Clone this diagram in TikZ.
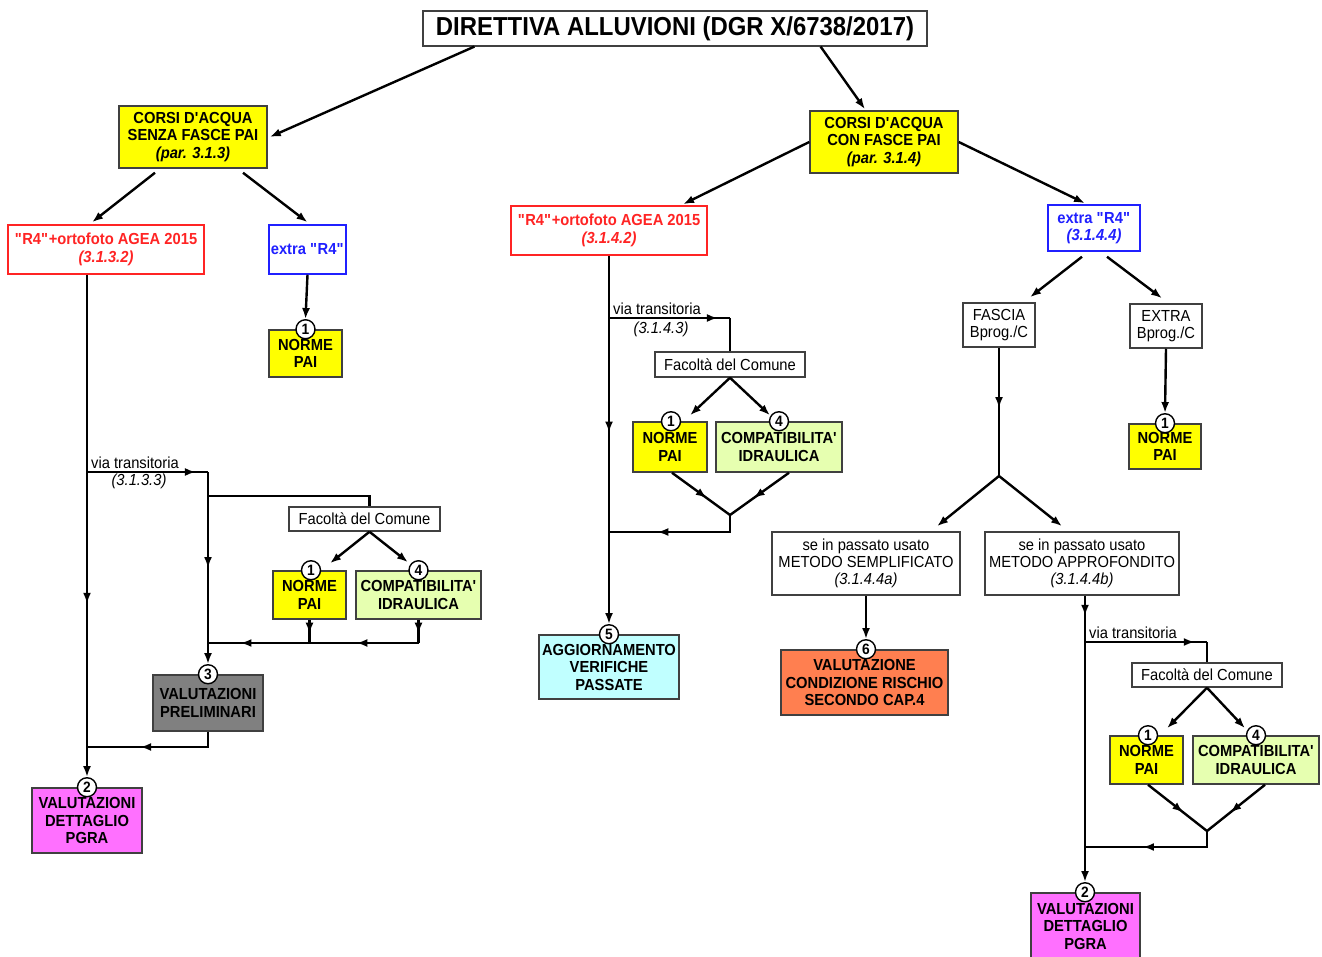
\documentclass[tikz,border=0pt]{standalone}
\usepackage{fontspec}
\setmainfont{Liberation Sans}[FakeStretch=0.92]
\usetikzlibrary{arrows.meta,decorations.markings}

\definecolor{giallo}{HTML}{FFFF00}
\definecolor{rosso}{HTML}{FF2424}
\definecolor{blu}{HTML}{2020FF}
\definecolor{verdino}{HTML}{E6FFB0}
\definecolor{grigio}{HTML}{808080}
\definecolor{fucsia}{HTML}{FF70FF}
\definecolor{azzurro}{HTML}{C0FFFF}
\definecolor{arancio}{HTML}{FF7F50}
\definecolor{bordo}{HTML}{404040}

\newcommand{\rquattro}{\textquotedbl R4\textquotedbl}

\tikzset{
  bianco/.style={draw=bordo, fill=white, line width=1.5pt, align=center, inner sep=2pt,
    font=\fontsize{16}{17}\selectfont},
  colorato/.style={bianco, font=\fontsize{16}{17.5}\selectfont\bfseries},
  numero/.style={circle, draw=black, fill=white, line width=1.4pt, inner sep=0pt,
    minimum size=19pt, font=\fontsize{15}{15}\selectfont\bfseries},
  filo/.style={line width=2.4pt},
  freccia/.style={filo, -{Latex[length=11pt,width=8pt]}},
  midarrow/.style={postaction={decorate}, decoration={markings,
    mark=at position #1 with {\arrow{Latex[length=11pt,width=8pt]}}}},
  testo/.style={font=\fontsize{16}{16}\selectfont, inner sep=1pt},
}

\begin{document}
\begin{tikzpicture}[x=1pt,y=-1pt]
  \path[fill=white, use as bounding box] (0,0) rectangle (1322,957);

  % Titolo
  \node[bianco, line width=1.2pt, minimum width=504, minimum height=35,
    font=\fontsize{26}{26}\selectfont\bfseries] (dir) at (675,28.5)
    {DIRETTIVA ALLUVIONI (DGR X/6738/2017)};

  % Primo livello
  \node[colorato, fill=giallo, minimum width=148, minimum height=62] (senza) at (193,137)
    {CORSI D\textquotesingle ACQUA\\SENZA FASCE PAI\\\textit{(par. 3.1.3)}};
  \node[colorato, fill=giallo, minimum width=148, minimum height=62] (con) at (884,142)
    {CORSI D\textquotesingle ACQUA\\CON FASCE PAI\\\textit{(par. 3.1.4)}};

  % Ramo senza fasce
  \node[colorato, draw=rosso, text=rosso, minimum width=196, minimum height=49] (r4a) at (106,249.5)
    {\rquattro+ortofoto AGEA 2015\\\textit{(3.1.3.2)}};
  \node[colorato, draw=blu, text=blu, minimum width=75, minimum height=49] (extraA) at (307.5,249.5)
    {extra \rquattro};
  \node[colorato, fill=giallo, minimum width=73, minimum height=47] (normeA) at (305.5,353.5)
    {NORME\\PAI};
  \node[bianco, minimum width=151, minimum height=24] (facA) at (364.5,519) {Facoltà del Comune};
  \node[colorato, fill=giallo, minimum width=73, minimum height=48] (normeL) at (309.5,595)
    {NORME\\PAI};
  \node[colorato, fill=verdino, minimum width=125, minimum height=48] (compL) at (418.5,595)
    {COMPATIBILITA\textquotesingle\\IDRAULICA};
  \node[colorato, fill=grigio, minimum width=110, minimum height=56] (prel) at (208,703)
    {VALUTAZIONI\\PRELIMINARI};
  \node[colorato, fill=fucsia, minimum width=110, minimum height=65] (detA) at (87,820.5)
    {VALUTAZIONI\\DETTAGLIO\\PGRA};

  % Ramo con fasce
  \node[colorato, draw=rosso, text=rosso, minimum width=196, minimum height=49] (r4b) at (609,230.5)
    {\rquattro+ortofoto AGEA 2015\\\textit{(3.1.4.2)}};
  \node[bianco, minimum width=150, minimum height=25] (facM) at (730,364.5) {Facoltà del Comune};
  \node[colorato, fill=giallo, minimum width=74, minimum height=50] (normeM) at (670,447)
    {NORME\\PAI};
  \node[colorato, fill=verdino, minimum width=126, minimum height=50] (compM) at (779,447)
    {COMPATIBILITA\textquotesingle\\IDRAULICA};
  \node[colorato, fill=azzurro, minimum width=140, minimum height=64] (agg) at (609,667)
    {AGGIORNAMENTO\\VERIFICHE\\PASSATE};

  \node[colorato, draw=blu, text=blu, minimum width=92, minimum height=46] (extraB) at (1094,228)
    {extra \rquattro\\\textit{(3.1.4.4)}};
  \node[bianco, minimum width=72, minimum height=44] (fasciaC) at (999,325) {FASCIA\\Bprog./C};
  \node[bianco, minimum width=72, minimum height=44] (extraC) at (1166,326) {EXTRA\\Bprog./C};
  \node[colorato, fill=giallo, minimum width=72, minimum height=45] (normeC) at (1165,446.5)
    {NORME\\PAI};
  \node[bianco, minimum width=188, minimum height=63] (semp) at (866,563.5)
    {se in passato usato\\METODO SEMPLIFICATO\\\textit{(3.1.4.4a)}};
  \node[bianco, minimum width=194, minimum height=63] (appr) at (1082,563.5)
    {se in passato usato\\METODO APPROFONDITO\\\textit{(3.1.4.4b)}};
  \node[colorato, fill=arancio, minimum width=167, minimum height=65] (rischio) at (864.5,682.5)
    {VALUTAZIONE\\CONDIZIONE RISCHIO\\SECONDO CAP.4};
  \node[bianco, minimum width=150, minimum height=24] (facR) at (1207,675) {Facoltà del Comune};
  \node[colorato, fill=giallo, minimum width=73, minimum height=48] (normeR) at (1146.5,760)
    {NORME\\PAI};
  \node[colorato, fill=verdino, minimum width=126, minimum height=48] (compR) at (1256,760)
    {COMPATIBILITA\textquotesingle\\IDRAULICA};
  \node[colorato, fill=fucsia, minimum width=109, minimum height=66] (detB) at (1085.5,926)
    {VALUTAZIONI\\DETTAGLIO\\PGRA};

  % Numeri
  \node[numero] (c1a) at (normeA.north) {1};
  \node[numero] (c1L) at ([xshift=1.5pt]normeL.north) {1};
  \node[numero] (c4L) at (compL.north) {4};
  \node[numero] (c3) at (prel.north) {3};
  \node[numero] (c2a) at (detA.north) {2};
  \node[numero] (c1M) at ([xshift=1pt]normeM.north) {1};
  \node[numero] (c4M) at (compM.north) {4};
  \node[numero] (c5) at (agg.north) {5};
  \node[numero] (c1C) at (normeC.north) {1};
  \node[numero] (c6) at ([xshift=1.5pt]rischio.north) {6};
  \node[numero] (c1R) at ([xshift=1.5pt]normeR.north) {1};
  \node[numero] (c4R) at (compR.north) {4};
  \node[numero] (c2b) at ([xshift=-0.5pt]detB.north) {2};

  % Punti di snodo
  \coordinate (vA) at (87,472);
  \coordinate (kA) at (208,472);
  \coordinate (fA) at (208,496);
  \coordinate (bA) at (208,643);
  \coordinate (mA) at (87,747);
  \coordinate (vB) at (609,318);
  \coordinate (kB) at (730,318);
  \coordinate (dB) at (730,515);
  \coordinate (eB) at (609,532);
  \coordinate (gC) at (999,476);
  \coordinate (vC) at (1085,642);
  \coordinate (kC) at (1207,642);
  \coordinate (dC) at (1207,831);
  \coordinate (eC) at (1085,847);

  % Collegamenti dal titolo
  \draw[freccia] ([xshift=52pt]dir.south west) -- ([xshift=2pt]senza.east);
  \draw[freccia] ([xshift=-107pt]dir.south east) -- ([xshift=-19pt,yshift=1pt]con.north);

  % Senza fasce
  \draw[freccia] ([xshift=-38pt,yshift=-4pt]senza.south) -- ([xshift=-14pt,yshift=2pt]r4a.north);
  \draw[freccia] ([xshift=50pt,yshift=-4pt]senza.south) -- ([yshift=2pt]extraA.north);
  \draw[freccia] (extraA.south) -- (c1a.north);
  \draw[freccia, midarrow=0.655] (r4a.south -| c2a) -- (c2a.north);
  \draw[filo, midarrow=0.9] (vA) -- (kA);
  \draw[freccia, midarrow=0.5] (kA) -- (c3.north);
  \draw[filo] (fA) -| ([xshift=5pt]facA.north);
  \draw[freccia] ([xshift=5pt]facA.south) -- ([xshift=20.5pt,yshift=7pt]normeL.north);
  \draw[freccia] ([xshift=5pt]facA.south) -- ([xshift=-10.5pt,yshift=8pt]compL.north);
  \draw[filo, midarrow=0.6] (normeL.south) -- (normeL.south |- bA);
  \draw[filo, midarrow=0.6] (compL.south) -- (compL.south |- bA);
  \draw[filo, midarrow=0.57] (compL.south |- bA) -- (normeL.south |- bA);
  \draw[filo, midarrow=0.68] (normeL.south |- bA) -- (bA);
  \draw[filo, midarrow=0.61] (prel.south) |- (mA);
  \node[testo, anchor=south west] (viaA) at ([xshift=3pt,yshift=2pt]vA) {via transitoria};
  \node[testo, font=\fontsize{16}{16}\selectfont\itshape] (parA) at (139,481) {(3.1.3.3)};

  % Con fasce
  \draw[freccia] (con.west) -- ([xshift=74pt,yshift=1pt]r4b.north);
  \draw[freccia] (con.east) -- ([xshift=-9pt,yshift=1pt]extraB.north);
  \draw[freccia, midarrow=0.48] (r4b.south) -- (c5.north);
  \draw[filo, midarrow=0.9] (vB) -- (kB);
  \draw[filo] (kB) -- (facM.north);
  \draw[freccia] (facM.south) -- ([xshift=20pt,yshift=6pt]normeM.north);
  \draw[freccia] (facM.south) -- ([xshift=-9pt,yshift=6pt]compM.north);
  \draw[filo, midarrow=0.6] ([xshift=2pt]normeM.south) -- (dB);
  \draw[filo, midarrow=0.6] ([xshift=10pt]compM.south) -- (dB);
  \draw[filo, midarrow=0.65] (dB) |- (eB);
  \node[testo, anchor=south west] (viaB) at ([xshift=3pt,yshift=2pt]vB) {via transitoria};
  \node[testo, font=\fontsize{16}{16}\selectfont\itshape] (parB) at (661,329) {(3.1.4.3)};

  \draw[freccia] ([xshift=-12pt,yshift=-5pt]extraB.south) -- ([xshift=31pt,yshift=5pt]fasciaC.north);
  \draw[freccia] ([xshift=13pt,yshift=-5pt]extraB.south) -- ([xshift=-4pt,yshift=5pt]extraC.north);
  \draw[freccia] (extraC.south) -- (c1C.north);
  \draw[filo, midarrow=0.47] (fasciaC.south) -- (gC);
  \draw[freccia] (gC) -- ([xshift=71pt,yshift=5pt]semp.north);
  \draw[freccia] (gC) -- ([xshift=-20pt,yshift=5pt]appr.north);
  \draw[freccia] (semp.south) -- (c6.north);
  \draw[freccia, midarrow=0.07] (appr.south -| c2b) -- (c2b.north);
  \draw[filo, midarrow=0.9] (vC) -- (kC);
  \draw[filo] (kC) -- (facR.north);
  \draw[freccia] (facR.south) -- ([xshift=20.5pt,yshift=7pt]normeR.north);
  \draw[freccia] (facR.south) -- ([xshift=-11pt,yshift=7pt]compR.north);
  \draw[filo, midarrow=0.6] ([xshift=1.5pt]normeR.south) -- (dC);
  \draw[filo, midarrow=0.6] ([xshift=9pt]compR.south) -- (dC);
  \draw[filo, midarrow=0.58] (dC) |- (eC);
  \node[testo, anchor=south west] (viaC) at ([xshift=3pt,yshift=2pt]vC) {via transitoria};
\end{tikzpicture}
\end{document}
